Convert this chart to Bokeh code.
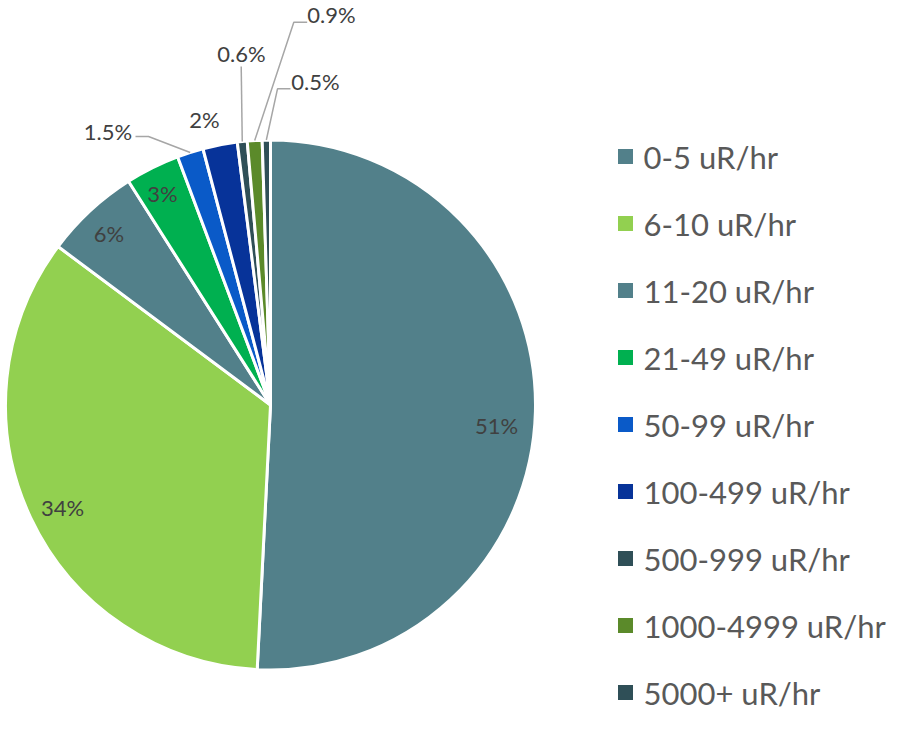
import numpy as np
from bokeh.plotting import figure
from bokeh.models import Range1d, ColumnDataSource
from bokeh.core.properties import value
from bokeh.embed import file_html
from bokeh.resources import INLINE

# ---------------- data ----------------
categories = ["0-5 uR/hr", "6-10 uR/hr", "11-20 uR/hr", "21-49 uR/hr", "50-99 uR/hr",
              "100-499 uR/hr", "500-999 uR/hr", "1000-4999 uR/hr", "5000+ uR/hr"]
shares = [50.8, 34.4, 5.8, 3.3, 1.6, 2.1, 0.6, 0.9, 0.5]
labels = ["51%", "34%", "6%", "3%", "1.5%", "2%", "0.6%", "0.9%", "0.5%"]
colors = ["#52808A", "#92D050", "#52808A", "#00B050", "#0A5AC8",
          "#073399", "#2F4F57", "#5B8A2A", "#2F4F57"]

# ---------------- layout (reference pixel coords, y down) ----------------
W, H = 888, 715
FULL_H = 731
CX, CY, R = 270.0, 404.5, 265.0

def Y(y):  # screen y -> data y
    return FULL_H - y

label_xy = [(496, 424.5), (62, 506.5), (108.5, 232.5), (162, 193.3), (107.5, 130.5),
            (204, 119), (241, 52.5), (331, 14), (315, 81)]
# leader lines: index -> elbow points before the slice edge
leaders = {4: [(135, 136), (148, 136)],
           6: [(240.7, 66)],
           7: [(306.7, 21.7), (293.3, 21.7)],
           8: [(290, 88.3), (277, 88.3)]}

p = figure(width=W, height=H, x_range=Range1d(0, W), y_range=Range1d(FULL_H - H, FULL_H),
           output_backend="svg", toolbar_location=None, min_border=0)
p.axis.visible = False
p.grid.visible = False
p.outline_line_color = None
p.background_fill_color = "white"
p.border_fill_color = "white"

vals = np.array(shares, dtype=float)
frac = vals / vals.sum()
cum_end = np.cumsum(frac) * 2 * np.pi
cum_start = cum_end - frac * 2 * np.pi
mid = (cum_start + cum_end) / 2

src = ColumnDataSource(dict(start=np.pi / 2 - cum_start, end=np.pi / 2 - cum_end,
                            color=colors, cat=categories))
p.wedge(x=CX, y=Y(CY), radius=R, start_angle="start", end_angle="end", direction="clock",
        fill_color="color", line_color="white", line_width=3, source=src)

# leader lines
xs, ys = [], []
for i, pts in leaders.items():
    ex = CX + R * np.sin(mid[i])
    ey = CY - R * np.cos(mid[i])
    xs.append([pt[0] for pt in pts] + [ex])
    ys.append([Y(pt[1]) for pt in pts] + [Y(ey)])
p.multi_line(xs=xs, ys=ys, line_color="#A6A6A6", line_width=1.5)

# data labels
p.text(x=[xy[0] for xy in label_xy], y=[Y(xy[1]) for xy in label_xy], text=labels,
       text_font=value("Lato"), text_font_size="22px", text_color="#404040",
       text_align="center", text_baseline="middle")

# legend (compressed slightly so it fits inside the frame)
row0, step = 156.0, 67.0
rows = [row0 + step * i for i in range(len(categories))]
p.scatter(x=[625] * len(categories), y=[Y(r) for r in rows], marker="square", size=15,
          fill_color=colors, line_color=None)
p.text(x=[643] * len(categories), y=[Y(r) for r in rows], text=categories,
       text_font=value("Lato"), text_font_size="31px", text_color="#595959",
       text_align="left", text_baseline="middle")

# decorative corner shape
p.patch(x=[862, 904, 904], y=[Y(731), Y(712), Y(731)], fill_color="#8CA251", line_color=None)

open("out.html", "w").write(file_html(p, INLINE))
